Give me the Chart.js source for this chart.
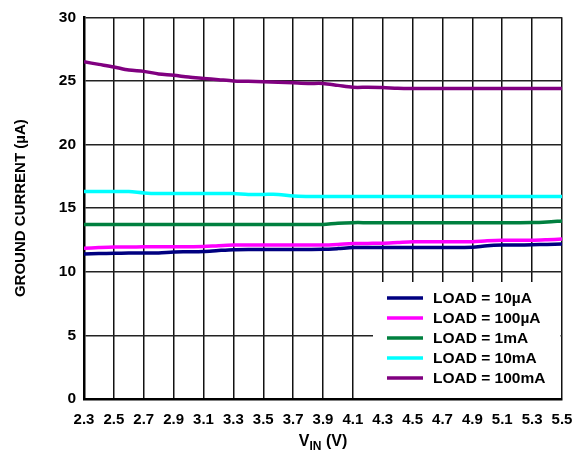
<!DOCTYPE html>
<html>
<head>
    <title>Ground Current vs VIN</title>
    <script src="https://cdn.jsdelivr.net/npm/chart.js"></script>
    <style>
        body { margin: 0; padding: 0; background: #ffffff; }
        #wrap { position: relative; width: 585px; height: 456px; }
        #xtitle {
            position: absolute;
            left: 323px;
            top: 432px;
            transform: translateX(-50%);
            font: bold 16px 'Liberation Sans', Arial, sans-serif;
            color: #000;
            white-space: nowrap;
        }
        #xtitle sub { font-size: 12px; vertical-align: -4px; }
    </style>
</head>
<body>
    <div id="wrap">
        <canvas id="chart" width="585" height="456"></canvas>
        <div id="xtitle">V<sub>IN</sub> (V)</div>
    </div>
    <script>
        // input voltage (V)
        const vin = [2.3, 2.4, 2.5, 2.6, 2.7, 2.8, 2.9, 3.0, 3.1, 3.2, 3.3, 3.4, 3.5, 3.6, 3.7, 3.8, 3.9,
                     4.0, 4.1, 4.2, 4.3, 4.4, 4.5, 4.6, 4.7, 4.8, 4.9, 5.0, 5.1, 5.2, 5.3, 5.4, 5.5];

        // ground current (uA) per load
        const load10uA = [11.40, 11.43, 11.45, 11.47, 11.47, 11.47, 11.55, 11.57, 11.60, 11.67, 11.73, 11.75, 11.75, 11.75, 11.75, 11.75, 11.76,
                          11.82, 11.90, 11.90, 11.91, 11.91, 11.91, 11.91, 11.91, 11.91, 11.92, 12.05, 12.10, 12.10, 12.12, 12.15, 12.18];
        const load100uA = [11.85, 11.90, 11.94, 11.95, 11.96, 11.96, 11.96, 11.97, 11.98, 12.05, 12.10, 12.10, 12.10, 12.10, 12.10, 12.10, 12.10,
                           12.15, 12.22, 12.23, 12.24, 12.30, 12.36, 12.36, 12.36, 12.36, 12.36, 12.43, 12.47, 12.47, 12.48, 12.52, 12.57];
        const load1mA = [13.72, 13.72, 13.72, 13.72, 13.72, 13.72, 13.72, 13.72, 13.72, 13.72, 13.72, 13.72, 13.72, 13.72, 13.72, 13.72, 13.72,
                         13.82, 13.86, 13.86, 13.86, 13.86, 13.86, 13.86, 13.86, 13.86, 13.86, 13.86, 13.86, 13.86, 13.87, 13.92, 14.00];
        const load10mA = [16.30, 16.30, 16.30, 16.30, 16.20, 16.15, 16.15, 16.15, 16.15, 16.15, 16.15, 16.08, 16.08, 16.08, 15.95, 15.92, 15.92,
                          15.92, 15.92, 15.92, 15.92, 15.92, 15.92, 15.92, 15.92, 15.92, 15.92, 15.92, 15.92, 15.92, 15.92, 15.92, 15.92];
        const load100mA = [26.50, 26.30, 26.10, 25.85, 25.75, 25.55, 25.45, 25.30, 25.20, 25.10, 25.00, 24.97, 24.93, 24.90, 24.85, 24.80, 24.80,
                           24.65, 24.50, 24.50, 24.48, 24.42, 24.40, 24.40, 24.40, 24.40, 24.40, 24.40, 24.40, 24.40, 24.40, 24.40, 24.40];

        const seriesLabels = ['LOAD = 10µA', 'LOAD = 100µA', 'LOAD = 1mA', 'LOAD = 10mA', 'LOAD = 100mA'];
        const seriesColors = ['#000080', '#ff00ff', '#00803f', '#00ffff', '#800080'];
        const seriesData = [load10uA, load100uA, load1mA, load10mA, load100mA];

        const FONT = "'Liberation Sans', Arial, sans-serif";

        // legend box drawn inside the plot, lower right
        const insideLegend = {
            id: 'insideLegend',
            afterDatasetsDraw(chart) {
                const ctx = chart.ctx;
                const area = chart.chartArea;
                ctx.save();
                ctx.fillStyle = '#ffffff';
                ctx.fillRect(373, 282, area.right - 373 - 1.5, area.bottom - 282 - 1);
                ctx.font = 'bold 15.5px ' + FONT;
                ctx.textBaseline = 'middle';
                ctx.lineWidth = 3.5;
                chart.data.datasets.forEach((ds, i) => {
                    const y = 298 + i * 20;
                    ctx.strokeStyle = ds.borderColor;
                    ctx.beginPath();
                    ctx.moveTo(387, y);
                    ctx.lineTo(423, y);
                    ctx.stroke();
                    ctx.fillStyle = '#000';
                    ctx.fillText(ds.label, 433, y + 1);
                });
                ctx.restore();
            }
        };

        new Chart(document.getElementById('chart').getContext('2d'), {
            type: 'line',
            data: {
                datasets: seriesData.map((vals, i) => ({
                    label: seriesLabels[i],
                    data: vals.map((v, j) => ({ x: vin[j], y: v })),
                    borderColor: seriesColors[i],
                    backgroundColor: seriesColors[i],
                    borderWidth: 3.5,
                    pointRadius: 0,
                    tension: 0.3,
                    fill: false
                }))
            },
            options: {
                responsive: false,
                animation: false,
                layout: { padding: { top: 17, right: 23, left: 0, bottom: 0 } },
                plugins: {
                    legend: { display: false },
                    tooltip: { enabled: false }
                },
                scales: {
                    x: {
                        type: 'linear',
                        min: 2.3,
                        max: 5.5,
                        afterFit: s => { s.height = 57; },
                        ticks: {
                            stepSize: 0.2,
                            padding: 12,
                            maxRotation: 0,
                            autoSkip: false,
                            color: '#000',
                            font: { family: FONT, size: 15, weight: 'bold' },
                            callback: v => v.toFixed(1)
                        },
                        grid: { color: '#111', lineWidth: 1.5, drawTicks: false },
                        border: { color: '#000', width: 2.5 }
                    },
                    y: {
                        min: 0,
                        max: 30,
                        afterFit: s => { s.width = 84; },
                        ticks: {
                            stepSize: 5,
                            padding: 8,
                            color: '#000',
                            font: { family: FONT, size: 15.5, weight: 'bold' }
                        },
                        grid: { color: '#222', lineWidth: 1.5, drawTicks: false },
                        border: { color: '#000', width: 2.5 },
                        title: {
                            display: true,
                            text: 'GROUND CURRENT (µA)',
                            color: '#000',
                            padding: { top: 12, bottom: 0 },
                            font: { family: FONT, size: 15, weight: 'bold' }
                        }
                    }
                }
            },
            plugins: [insideLegend]
        });
    </script>
</body>
</html>
